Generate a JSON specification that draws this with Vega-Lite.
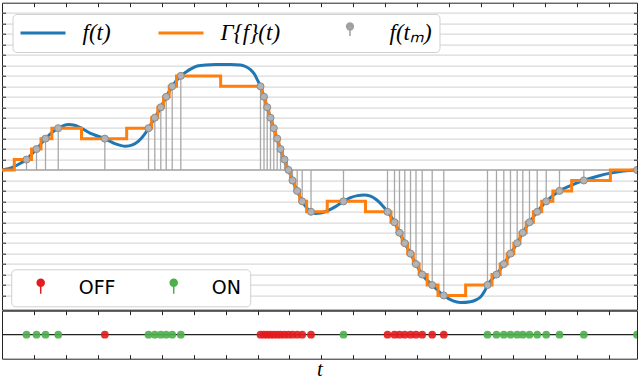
{
  "$schema": "https://vega.github.io/schema/vega-lite/v6.json",
  "padding": {"left": -5, "top": 1.7, "right": 0, "bottom": 0},
  "spacing": -3.3,
  "config": {
    "font": "DejaVu Sans",
    "view": {"stroke": "#222222", "strokeWidth": 1},
    "axis": {"tickColor": "#222222", "tickWidth": 1, "domain": false, "labels": false, "minExtent": 0, "offset": 0}
  },
  "datasets": {
    "curve": [
      {"t": 0, "f": 0}, {"t": 0.204, "f": 0.12}, {"t": 0.391, "f": 0.35}, {"t": 0.579, "f": 0.65},
      {"t": 0.767, "f": 1}, {"t": 0.924, "f": 1.5}, {"t": 1.08, "f": 2}, {"t": 1.221, "f": 2.5},
      {"t": 1.362, "f": 3}, {"t": 1.55, "f": 3.55}, {"t": 1.76, "f": 4}, {"t": 1.925, "f": 4.25},
      {"t": 2.091, "f": 4.34}, {"t": 2.27, "f": 4.28}, {"t": 2.458, "f": 4.05}, {"t": 2.771, "f": 3.5},
      {"t": 2.99, "f": 3.25}, {"t": 3.219, "f": 3}, {"t": 3.554, "f": 2.5}, {"t": 3.867, "f": 2.27},
      {"t": 4.086, "f": 2.4}, {"t": 4.274, "f": 2.75}, {"t": 4.461, "f": 3.4}, {"t": 4.587, "f": 4},
      {"t": 4.784, "f": 5}, {"t": 4.972, "f": 6}, {"t": 5.141, "f": 7}, {"t": 5.329, "f": 8},
      {"t": 5.598, "f": 9}, {"t": 5.776, "f": 9.4}, {"t": 5.902, "f": 9.65}, {"t": 6.111, "f": 9.95},
      {"t": 6.371, "f": 10.05}, {"t": 6.684, "f": 10.08}, {"t": 7.154, "f": 10.08}, {"t": 7.467, "f": 10.05},
      {"t": 7.624, "f": 9.9}, {"t": 7.78, "f": 9.6}, {"t": 7.905, "f": 9.15}, {"t": 7.999, "f": 8.6},
      {"t": 8.093, "f": 8}, {"t": 8.203, "f": 7}, {"t": 8.303, "f": 6}, {"t": 8.406, "f": 5},
      {"t": 8.51, "f": 4}, {"t": 8.616, "f": 3}, {"t": 8.72, "f": 2}, {"t": 8.845, "f": 1},
      {"t": 8.97, "f": 0}, {"t": 9.095, "f": -1}, {"t": 9.242, "f": -2}, {"t": 9.399, "f": -3},
      {"t": 9.533, "f": -3.6}, {"t": 9.675, "f": -4}, {"t": 9.815, "f": -4.15}, {"t": 9.972, "f": -4.12},
      {"t": 10.182, "f": -3.9}, {"t": 10.441, "f": -3.5}, {"t": 10.692, "f": -3}, {"t": 10.911, "f": -2.65},
      {"t": 11.13, "f": -2.45}, {"t": 11.327, "f": -2.38}, {"t": 11.537, "f": -2.5}, {"t": 11.725, "f": -2.85},
      {"t": 11.882, "f": -3.3}, {"t": 12.07, "f": -4}, {"t": 12.289, "f": -5}, {"t": 12.445, "f": -6},
      {"t": 12.611, "f": -7}, {"t": 12.79, "f": -8}, {"t": 12.962, "f": -9}, {"t": 13.156, "f": -10},
      {"t": 13.469, "f": -11}, {"t": 13.832, "f": -12}, {"t": 14.105, "f": -12.5}, {"t": 14.355, "f": -12.68},
      {"t": 14.668, "f": -12.6}, {"t": 14.856, "f": -12.4}, {"t": 14.981, "f": -12.15}, {"t": 15.107, "f": -11.6},
      {"t": 15.2, "f": -11}, {"t": 15.482, "f": -10}, {"t": 15.711, "f": -9}, {"t": 15.92, "f": -8},
      {"t": 16.13, "f": -7}, {"t": 16.306, "f": -6}, {"t": 16.515, "f": -5}, {"t": 16.757, "f": -4},
      {"t": 17.039, "f": -3}, {"t": 17.455, "f": -2}, {"t": 17.799, "f": -1.5}, {"t": 18.216, "f": -1},
      {"t": 18.644, "f": -0.6}, {"t": 19.051, "f": -0.3}, {"t": 19.458, "f": -0.1}, {"t": 19.881, "f": 0}
    ],
    "gamma": [
      {"t": 0, "g": 0}, {"t": 0.384, "g": 1}, {"t": 0.924, "g": 2}, {"t": 1.221, "g": 3},
      {"t": 1.561, "g": 4}, {"t": 2.489, "g": 3}, {"t": 3.903, "g": 4}, {"t": 4.685, "g": 5},
      {"t": 4.878, "g": 6}, {"t": 5.056, "g": 7}, {"t": 5.235, "g": 8}, {"t": 5.463, "g": 9},
      {"t": 6.846, "g": 8}, {"t": 8.148, "g": 7}, {"t": 8.253, "g": 6}, {"t": 8.355, "g": 5},
      {"t": 8.458, "g": 4}, {"t": 8.563, "g": 3}, {"t": 8.668, "g": 2}, {"t": 8.782, "g": 1},
      {"t": 8.907, "g": 0}, {"t": 9.033, "g": -1}, {"t": 9.169, "g": -2}, {"t": 9.321, "g": -3},
      {"t": 9.537, "g": -4}, {"t": 10.183, "g": -3}, {"t": 11.381, "g": -4}, {"t": 12.179, "g": -5},
      {"t": 12.367, "g": -6}, {"t": 12.528, "g": -7}, {"t": 12.701, "g": -8}, {"t": 12.876, "g": -9},
      {"t": 13.059, "g": -10}, {"t": 13.312, "g": -11}, {"t": 13.651, "g": -12}, {"t": 14.516, "g": -11},
      {"t": 15.341, "g": -10}, {"t": 15.597, "g": -9}, {"t": 15.816, "g": -8}, {"t": 16.025, "g": -7},
      {"t": 16.218, "g": -6}, {"t": 16.411, "g": -5}, {"t": 16.636, "g": -4}, {"t": 16.897, "g": -3},
      {"t": 17.247, "g": -2}, {"t": 17.835, "g": -1}, {"t": 19.048, "g": 0}, {"t": 19.881, "g": 0}
    ],
    "samples": [
      {"t": 0.767, "level": 1, "event": "ON"}, {"t": 1.08, "level": 2, "event": "ON"},
      {"t": 1.362, "level": 3, "event": "ON"}, {"t": 1.76, "level": 4, "event": "ON"},
      {"t": 3.219, "level": 3, "event": "OFF"}, {"t": 4.587, "level": 4, "event": "ON"},
      {"t": 4.784, "level": 5, "event": "ON"}, {"t": 4.972, "level": 6, "event": "ON"},
      {"t": 5.141, "level": 7, "event": "ON"}, {"t": 5.329, "level": 8, "event": "ON"},
      {"t": 5.598, "level": 9, "event": "ON"}, {"t": 8.093, "level": 8, "event": "OFF"},
      {"t": 8.203, "level": 7, "event": "OFF"}, {"t": 8.303, "level": 6, "event": "OFF"},
      {"t": 8.406, "level": 5, "event": "OFF"}, {"t": 8.51, "level": 4, "event": "OFF"},
      {"t": 8.616, "level": 3, "event": "OFF"}, {"t": 8.72, "level": 2, "event": "OFF"},
      {"t": 8.845, "level": 1, "event": "OFF"}, {"t": 8.97, "level": 0, "event": "OFF"},
      {"t": 9.095, "level": -1, "event": "OFF"}, {"t": 9.242, "level": -2, "event": "OFF"},
      {"t": 9.399, "level": -3, "event": "OFF"}, {"t": 9.675, "level": -4, "event": "OFF"},
      {"t": 10.692, "level": -3, "event": "ON"}, {"t": 12.07, "level": -4, "event": "OFF"},
      {"t": 12.289, "level": -5, "event": "OFF"}, {"t": 12.445, "level": -6, "event": "OFF"},
      {"t": 12.611, "level": -7, "event": "OFF"}, {"t": 12.79, "level": -8, "event": "OFF"},
      {"t": 12.962, "level": -9, "event": "OFF"}, {"t": 13.156, "level": -10, "event": "OFF"},
      {"t": 13.469, "level": -11, "event": "OFF"}, {"t": 13.832, "level": -12, "event": "OFF"},
      {"t": 15.2, "level": -11, "event": "ON"}, {"t": 15.482, "level": -10, "event": "ON"},
      {"t": 15.711, "level": -9, "event": "ON"}, {"t": 15.92, "level": -8, "event": "ON"},
      {"t": 16.13, "level": -7, "event": "ON"}, {"t": 16.306, "level": -6, "event": "ON"},
      {"t": 16.515, "level": -5, "event": "ON"}, {"t": 16.757, "level": -4, "event": "ON"},
      {"t": 17.039, "level": -3, "event": "ON"}, {"t": 17.455, "level": -2, "event": "ON"},
      {"t": 18.216, "level": -1, "event": "ON"}, {"t": 19.881, "level": 0, "event": "ON"}
    ],
    "leg1": [{"series": "f(t)"}, {"series": "Γ{f}(t)"}, {"series": "f(tₘ)"}],
    "leg2": [{"event": "OFF"}, {"event": "ON"}]
  },
  "vconcat": [
    {
      "width": 635,
      "height": 307,
      "layer": [
        {
          "data": {"values": [{}]},
          "mark": {"type": "rule", "color": "#a8a8a8", "strokeWidth": 1.5},
          "encoding": {"y": {"datum": 0, "type": "quantitative", "axis": null}}
        },
        {
          "data": {"name": "samples"},
          "mark": {"type": "rule", "color": "#a8a8a8", "strokeWidth": 1.3},
          "encoding": {
            "x": {"field": "t", "type": "quantitative", "scale": {"domain": [0, 19.881], "nice": false, "zero": false},
                  "axis": {"orient": "top", "title": null, "values": [1,2,3,4,5,6,7,8,9,10,11,12,13,14,15,16,17,18,19], "tickSize": -4, "grid": false}},
            "y": {"field": "level", "type": "quantitative", "scale": {"domain": [-13.36, 16], "nice": false, "zero": false},
                  "axis": {"orient": "left", "title": null, "values": [-12,-11,-10,-9,-8,-7,-6,-5,-4,-3,-2,-1,0,1,2,3,4,5,6,7,8,9,10,11,12,13,14,15], "tickSize": -3.5, "grid": true, "gridColor": "#dadada", "gridWidth": 1.3}},
            "y2": {"datum": 0}
          }
        },
        {
          "data": {"name": "curve"},
          "mark": {"type": "line", "interpolate": "monotone", "color": "#1f77b4", "strokeWidth": 3},
          "encoding": {
            "x": {"field": "t", "type": "quantitative", "axis": null},
            "y": {"field": "f", "type": "quantitative", "axis": null}
          }
        },
        {
          "data": {"name": "gamma"},
          "mark": {"type": "line", "interpolate": "step-after", "color": "#ff7f0e", "strokeWidth": 3},
          "encoding": {
            "x": {"field": "t", "type": "quantitative", "axis": null},
            "y": {"field": "g", "type": "quantitative", "axis": null}
          }
        },
        {
          "data": {"name": "samples"},
          "mark": {"type": "point", "filled": true, "fill": "#b3b3b3", "stroke": "#8c8c8c", "strokeWidth": 1, "size": 50, "opacity": 1, "clip": true},
          "encoding": {
            "x": {"field": "t", "type": "quantitative", "axis": null},
            "y": {"field": "level", "type": "quantitative",
                  "axis": {"orient": "right", "title": null, "values": [-12,-11,-10,-9,-8,-7,-6,-5,-4,-3,-2,-1,0,1,2,3,4,5,6,7,8,9,10,11,12,13,14,15], "tickSize": -3.5, "grid": false}}
          }
        },
        {
          "data": {"name": "leg1"},
          "transform": [{"filter": "false"}],
          "mark": {"type": "point", "filled": false, "opacity": 1, "strokeWidth": 1.5},
          "encoding": {
            "stroke": {"field": "series", "type": "nominal",
              "scale": {"domain": ["f(t)", "Γ{f}(t)", "f(tₘ)"], "range": ["#1f77b4", "#ff7f0e", "#a0a0a0"]},
              "legend": {"orient": "none", "legendX": 10.5, "legendY": 11.3, "direction": "horizontal", "columns": 3, "title": null,
                "symbolSize": 2025, "symbolStrokeWidth": 1.5, "clipHeight": 24, "padding": 7, "labelOffset": 16, "columnPadding": 46,
                "labelFont": "Liberation Serif", "labelFontStyle": "italic", "labelFontSize": 23, "labelColor": "#000000", "labelLimit": 300,
                "fillColor": "#ffffff", "strokeColor": "#d0d0d0", "cornerRadius": 4}},
            "shape": {"field": "series", "type": "nominal",
              "scale": {"domain": ["f(t)", "Γ{f}(t)", "f(tₘ)"], "range": [
                "M-1,-0.0333H1M-1,0.0333H1",
                "M-1,-0.0333H1M-1,0.0333H1",
                "M0,-0.15V0.133M-0.151,-0.29a0.151,0.151 0 1,0 0.302,0a0.151,0.151 0 1,0 -0.302,0M-0.1,-0.29a0.1,0.1 0 1,0 0.2,0a0.1,0.1 0 1,0 -0.2,0M-0.033,-0.29a0.033,0.033 0 1,0 0.066,0a0.033,0.033 0 1,0 -0.066,0"]},
              "legend": {"orient": "none", "legendX": 10.5, "legendY": 11.3, "direction": "horizontal", "columns": 3, "title": null,
                "symbolSize": 2025, "symbolStrokeWidth": 1.5, "clipHeight": 24, "padding": 7, "labelOffset": 16, "columnPadding": 46,
                "labelFont": "Liberation Serif", "labelFontStyle": "italic", "labelFontSize": 23, "labelColor": "#000000", "labelLimit": 300,
                "fillColor": "#ffffff", "strokeColor": "#d0d0d0", "cornerRadius": 4}}
          }
        },
        {
          "data": {"name": "leg2"},
          "transform": [{"filter": "false"}],
          "mark": {"type": "point", "filled": false, "opacity": 1, "strokeWidth": 1.5},
          "encoding": {
            "color": {"field": "event", "type": "nominal",
              "scale": {"domain": ["OFF", "ON"], "range": ["#e41a1c", "#4daf4a"]},
              "legend": {"orient": "none", "legendX": 9.2, "legendY": 266.6, "direction": "horizontal", "columns": 2, "title": null,
                "symbolType": "M0,-0.1V0.3M-0.175,-0.25a0.175,0.175 0 1,0 0.35,0a0.175,0.175 0 1,0 -0.35,0M-0.1125,-0.25a0.1125,0.1125 0 1,0 0.225,0a0.1125,0.1125 0 1,0 -0.225,0M-0.0375,-0.25a0.0375,0.0375 0 1,0 0.075,0a0.0375,0.0375 0 1,0 -0.075,0",
                "symbolSize": 1600, "symbolStrokeWidth": 1.5, "clipHeight": 20, "padding": 8.5, "labelOffset": 17, "columnPadding": 37,
                "labelFont": "DejaVu Sans", "labelFontSize": 19, "labelColor": "#000000",
                "fillColor": "#ffffff", "strokeColor": "#d0d0d0", "cornerRadius": 4}}
          }
        }
      ],
      "resolve": {"axis": {"x": "independent", "y": "independent"}}
    },
    {
      "width": 635,
      "height": 48,
      "layer": [
        {
          "data": {"values": [{}]},
          "mark": {"type": "rule", "color": "#222222", "strokeWidth": 1.2},
          "encoding": {
            "x": {"datum": 0, "type": "quantitative", "scale": {"domain": [0, 19.881], "nice": false, "zero": false},
                  "axis": {"orient": "top", "title": null, "values": [1,2,3,4,5,6,7,8,9,10,11,12,13,14,15,16,17,18,19], "tickSize": -4, "grid": false}},
            "x2": {"datum": 19.881},
            "y": {"datum": 0, "type": "quantitative", "scale": {"domain": [-1, 1], "nice": false}, "axis": null}
          }
        },
        {
          "data": {"name": "samples"},
          "mark": {"type": "point", "filled": true, "size": 60, "opacity": 0.9, "clip": true},
          "encoding": {
            "x": {"field": "t", "type": "quantitative",
                  "axis": {"orient": "bottom", "values": [1,2,3,4,5,6,7,8,9,10,11,12,13,14,15,16,17,18,19], "tickSize": -4, "grid": false,
                           "title": "t", "titleFont": "Liberation Serif", "titleFontStyle": "italic", "titleFontWeight": "normal", "titleFontSize": 21, "titleColor": "#000000", "titleBaseline": "alphabetic", "titlePadding": 16}},
            "y": {"datum": 0, "type": "quantitative"},
            "color": {"field": "event", "type": "nominal", "scale": {"domain": ["OFF", "ON"], "range": ["#e41a1c", "#4daf4a"]}, "legend": null}
          }
        }
      ],
      "resolve": {"axis": {"x": "independent"}}
    }
  ],
  "resolve": {
    "scale": {"color": "independent", "stroke": "independent", "shape": "independent"},
    "legend": {"color": "independent", "stroke": "independent", "shape": "independent"}
  }
}
